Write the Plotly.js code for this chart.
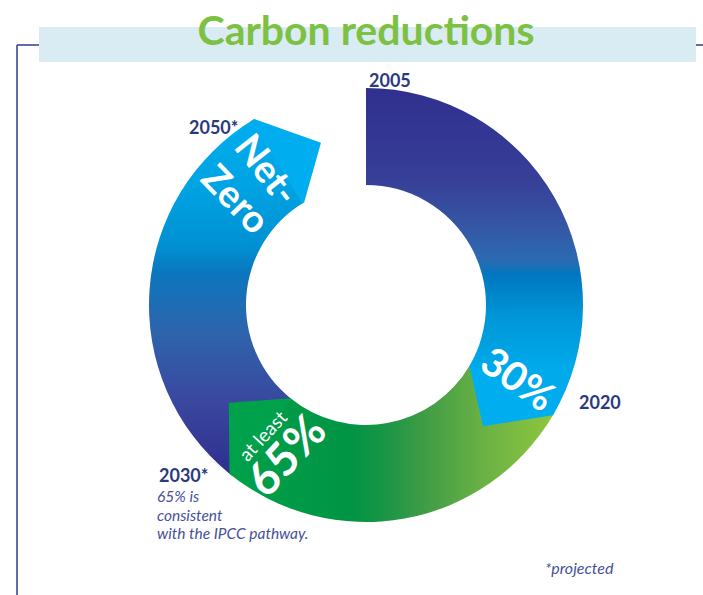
<!DOCTYPE html>
<html><head><meta charset="utf-8">
<script src="https://cdn.plot.ly/plotly-3.0.1.min.js"></script>
<style>html,body{margin:0;padding:0;background:#fff;} #chart{width:703px;height:595px;}</style>
</head><body><div id="chart"></div>
<script>
// ---- data ----
const segmentNames = ['2005–2020', '2020–2030', '2030–2050', 'gap'];
const arcDegrees = [120.5, 98.5, 110, 31];
const milestoneYears = ['2005', '2020', '2030*', '2050*'];
const segmentLabels = ['30%', 'at least', '65%', 'Net-', 'Zero'];
const noteLines = ['65% is', 'consistent', 'with the IPCC pathway.'];
const footnote = '*projected';
const titleText = 'Carbon reductions';

// ---- geometry / style ----
const W = 703, H = 595;
const CX = 366, CY = 305, R = 217, HOLE = 0.553;
const TIP_DEG = 15.5;
const NAVY = '#2b3a7e', NOTE = '#46519a';
const FONT = 'Lato, "Open Sans", sans-serif';

const gradients = [
  {dir: 'v', stops: [[0,'#302f8f'],[0.28,'#373f97'],[0.43,'#3558a5'],[0.53,'#2a6bb3'],[0.57,'#0077c0'],[0.7,'#0096d7'],[0.85,'#00a9ea'],[1,'#00aeef']]},
  {dir: 'h', stops: [[0,'#00a14b'],[0.38,'#009444'],[0.5,'#1f9646'],[0.6,'#3f9c46'],[0.8,'#6db344'],[1,'#8dc63f']]},
  {dir: 'v', stops: [[0,'#00aeef'],[0.2,'#00a2e2'],[0.36,'#0090d2'],[0.43,'#0a77bf'],[0.6,'#2e64ac'],[0.8,'#3a479e'],[1,'#2f2e8f']]}
];
const tipColors = ['#00aeef', '#00a14b', '#00aeef'];

function polar(r, deg) {
  const a = deg * Math.PI / 180;
  return [CX + r * Math.sin(a), H - (CY - r * Math.cos(a))];
}

const pie = {
  type: 'pie',
  labels: segmentNames,
  values: arcDegrees,
  sort: false,
  direction: 'clockwise',
  rotation: 0,
  hole: HOLE,
  textinfo: 'none',
  hoverinfo: 'skip',
  showlegend: false,
  marker: {colors: ['#2a6bb3', '#1f9646', '#2e64ac', 'rgba(0,0,0,0)'], line: {width: 0}},
  domain: {x: [(CX - R) / W, (CX + R) / W], y: [(H - CY - R) / H, (H - CY + R) / H]}
};

const traces = [pie];
let cum = 0;
for (let i = 0; i < 3; i++) {
  cum += arcDegrees[i];
  const pts = [polar(R, cum - 1), polar(R, cum), polar((R + R * HOLE) / 2, cum + TIP_DEG),
               polar(R * HOLE, cum), polar(R * HOLE, cum - 1)];
  traces.push({
    type: 'scatter', mode: 'lines', fill: 'toself',
    x: pts.map(p => p[0]), y: pts.map(p => p[1]),
    line: {width: 0, color: tipColors[i]}, fillcolor: tipColors[i],
    hoverinfo: 'skip', showlegend: false
  });
}

function ann(text, x, y, opt) {
  return Object.assign({text: text, x: x / W, y: 1 - y / H, xref: 'paper', yref: 'paper',
    showarrow: false, xanchor: 'center', yanchor: 'middle'}, opt);
}
const boldNavy = {font: {family: FONT, size: 18, color: NAVY, weight: 700}};
const white = (size, weight) => ({family: FONT, size: size, color: '#ffffff', weight: weight});
const noteFont = (size) => ({family: FONT, size: size, color: NOTE, style: 'italic'});

const annotations = [
  ann(milestoneYears[0], 390, 80, boldNavy),
  ann(milestoneYears[1], 600, 402, boldNavy),
  ann(milestoneYears[2], 157, 474.5, Object.assign({xanchor: 'left'}, boldNavy)),
  ann(milestoneYears[3], 213, 127, boldNavy),
  ann(segmentLabels[0], 518, 378, {textangle: 35, font: white(40, 700)}),
  ann(segmentLabels[1], 262, 435, {textangle: -47, font: white(19, 400)}),
  ann(segmentLabels[2], 285, 455, {textangle: -47, font: white(46, 700)}),
  ann(segmentLabels[3], 268, 168, {textangle: 52, font: white(38, 700)}),
  ann(segmentLabels[4], 237, 198, {textangle: 46, font: white(38, 700)}),
  ann(noteLines[0], 155, 496, {xanchor: 'left', font: noteFont(15.5)}),
  ann(noteLines[1], 155, 514.5, {xanchor: 'left', font: noteFont(15.5)}),
  ann(noteLines[2], 155, 533, {xanchor: 'left', font: noteFont(15.5)}),
  ann(footnote, 579, 567, {font: noteFont(16)})
];

const px = x => x / W, py = y => 1 - y / H;
const shapes = [
  {type: 'line', xref: 'paper', yref: 'paper', x0: px(17), x1: px(17), y0: py(45), y1: py(595), line: {color: '#2e3b8a', width: 1.5}, layer: 'below'},
  {type: 'line', xref: 'paper', yref: 'paper', x0: px(17), x1: px(40), y0: py(45), y1: py(45), line: {color: '#2e3b8a', width: 1.5}, layer: 'below'},
  {type: 'line', xref: 'paper', yref: 'paper', x0: px(695), x1: px(703), y0: py(45), y1: py(45), line: {color: '#2e3b8a', width: 1.5}, layer: 'below'},
  {type: 'rect', xref: 'paper', yref: 'paper', x0: px(39), x1: px(696), y0: py(27), y1: py(62), fillcolor: '#d9ebf3', line: {width: 0}, layer: 'below'}
];

const layout = {
  width: W, height: H,
  margin: {l: 0, r: 0, t: 0, b: 0},
  paper_bgcolor: '#ffffff', plot_bgcolor: 'rgba(0,0,0,0)',
  title: {text: titleText, x: 366 / W, xanchor: 'center', xref: 'paper', y: 1 - 30.6 / H, yanchor: 'middle', yref: 'container',
    font: {family: FONT, size: 41, color: '#7cc142', weight: 700}},
  xaxis: {domain: [0, 1], range: [0, W], visible: false, fixedrange: true},
  yaxis: {domain: [0, 1], range: [0, H], visible: false, fixedrange: true},
  showlegend: false,
  annotations: annotations,
  shapes: shapes
};

const gd = document.getElementById('chart');
Plotly.newPlot(gd, traces, layout, {displayModeBar: false, staticPlot: true}).then(function () {
  const NS = 'http://www.w3.org/2000/svg';
  const svg = gd.querySelector('.main-svg');
  let defs = svg.querySelector('defs');
  if (!defs) { defs = document.createElementNS(NS, 'defs'); svg.insertBefore(defs, svg.firstChild); }
  gradients.forEach(function (g, i) {
    const lg = document.createElementNS(NS, 'linearGradient');
    lg.setAttribute('id', 'segGrad' + i);
    lg.setAttribute('x1', '0'); lg.setAttribute('y1', '0');
    lg.setAttribute('x2', g.dir === 'h' ? '1' : '0'); lg.setAttribute('y2', g.dir === 'h' ? '0' : '1');
    g.stops.forEach(function (s) {
      const st = document.createElementNS(NS, 'stop');
      st.setAttribute('offset', s[0]); st.setAttribute('stop-color', s[1]);
      lg.appendChild(st);
    });
    defs.appendChild(lg);
  });
  const surfaces = svg.querySelectorAll('.pielayer .slice path.surface');
  surfaces.forEach(function (p, i) { if (i < 3) p.style.fill = 'url(#segGrad' + i + ')'; });
  const cart = svg.querySelector('.cartesianlayer');
  const pl = svg.querySelector('.pielayer');
  if (cart && pl) pl.parentNode.insertBefore(cart, pl.nextSibling);
});
</script>
</body></html>
